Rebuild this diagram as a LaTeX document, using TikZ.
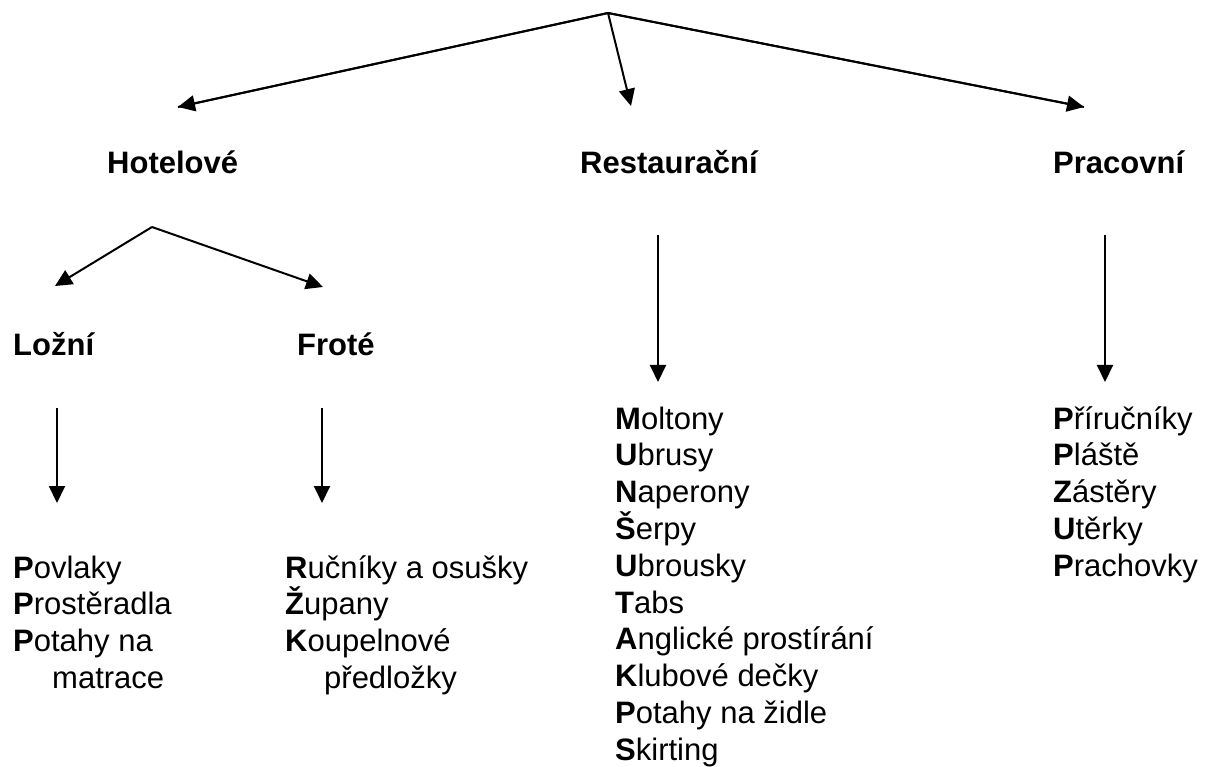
\documentclass[tikz,border=0pt]{standalone}
\usepackage{fontspec}
\setmainfont{Liberation Sans}
\usetikzlibrary{arrows.meta}
\tikzset{
  arr/.style={line width=2pt,-{Triangle[length=17pt,width=16pt]}},
  head/.style={anchor=base west,inner sep=0pt,font=\fontsize{31}{36.8}\selectfont\bfseries},
  list/.style={anchor=base west,inner sep=0pt,align=left,font=\fontsize{31}{36.8}\selectfont},
}
\begin{document}
\begin{tikzpicture}[x=1pt,y=-1pt]
\useasboundingbox (0,0) rectangle (1211,767);
% headings
\node[head] (hot) at (107,174) {Hotelové};
\node[head] (res) at (580,174) {Restaurační};
\node[head] (pra) at (1053,174) {Pracovní};
\node[head] (loz) at (13,356) {Ložní};
\node[head] (fro) at (297,356) {Froté};
% lists (base anchor = baseline of the last line)
\node[list] (lozl) at (13,688.4) {\textbf{P}ovlaky\\\textbf{P}rostěradla\\\textbf{P}otahy na\\\hspace*{39pt}matrace};
\node[list] (frol) at (285,688.4) {\textbf{R}učníky a osušky\\\textbf{Ž}upany\\\textbf{K}oupelnové\\\hspace*{39pt}předložky};
\node[list] (resl) at (615,760.2) {\textbf{M}oltony\\\textbf{U}brusy\\\textbf{N}aperony\\\textbf{Š}erpy\\\textbf{U}brousky\\\textbf{T}abs\\\textbf{A}nglické prostírání\\\textbf{K}lubové dečky\\\textbf{P}otahy na židle\\\textbf{S}kirting};
\node[list] (pral) at (1053,576.2) {\textbf{P}říručníky\\\textbf{P}láště\\\textbf{Z}ástěry\\\textbf{U}těrky\\\textbf{P}rachovky};
% connector points
\coordinate (top) at (608,13);
\coordinate (hotTip) at (178,107);
\coordinate (resTip) at (631,106);
\coordinate (praTip) at (1084,107);
\coordinate (hot2) at (152,227);
\coordinate (lozTip) at (55,286);
\coordinate (froTip) at (323,287);
\coordinate (lozA) at (57,408);
\coordinate (lozB) at (57,503);
\coordinate (froA) at (322,408);
\coordinate (froB) at (322,503);
\coordinate (resA) at (658,235);
\coordinate (resB) at (658,382);
\coordinate (praA) at (1105,235);
\coordinate (praB) at (1105,382);
% connectors
\draw[line width=2pt,line join=miter] (hotTip) -- (top) -- (praTip);
\draw[arr] (top) -- (hotTip);
\draw[arr] (top) -- (resTip);
\draw[arr] (top) -- (praTip);
\draw[arr] (hot2) -- (lozTip);
\draw[arr] (hot2) -- (froTip);
\draw[arr] (lozA) -- (lozB);
\draw[arr] (froA) -- (froB);
\draw[arr] (resA) -- (resB);
\draw[arr] (praA) -- (praB);
\end{tikzpicture}
\end{document}
